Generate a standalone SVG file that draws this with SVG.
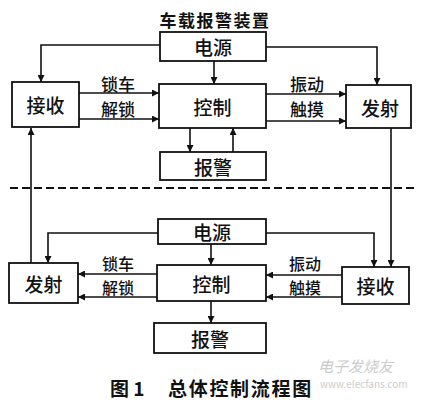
<svg xmlns="http://www.w3.org/2000/svg" width="425" height="400" viewBox="0 0 425 400">
<defs>
<marker id="ah" viewBox="0 0 10 10" refX="10" refY="5" markerWidth="8" markerHeight="7" markerUnits="userSpaceOnUse" orient="auto">
<path d="M0,0 L10,5 L0,10 z" fill="#111"/>
</marker>
<style>
.box{fill:#fff;stroke:#111;stroke-width:1.8}
.t{font-family:"Noto Sans CJK SC","Noto Sans",sans-serif;font-size:19px;font-weight:500;fill:#111;text-anchor:middle;dominant-baseline:central}
.lbl{font-family:"Noto Sans CJK SC","Noto Sans",sans-serif;font-size:17px;font-weight:500;fill:#111;text-anchor:middle;dominant-baseline:central}
.lb2{font-family:"Noto Sans CJK SC","Noto Sans",sans-serif;font-size:16px;font-weight:500;fill:#111;text-anchor:middle;dominant-baseline:central}
.ttl{font-family:"Noto Sans CJK SC","Noto Sans",sans-serif;font-size:17px;font-weight:bold;fill:#111;text-anchor:middle;dominant-baseline:central}
.ln{fill:none;stroke:#111;stroke-width:1.6}
.ar{marker-end:url(#ah)}
.cap{font-family:"Noto Sans CJK SC","Noto Sans",sans-serif;font-size:19px;font-weight:bold;fill:#111;dominant-baseline:central}
.wm{font-family:"Noto Sans CJK SC","Noto Sans",sans-serif;fill:#ccc;dominant-baseline:central}
</style>
</defs>
<rect width="425" height="400" fill="#fff"/>
<text class="ttl" x="215" y="19" letter-spacing="1.5">车载报警装置</text>

<g id="connectors">
<polyline class="ln ar" points="160,45 41,45 41,82"/>
<polyline class="ln ar" points="266,47 377,47 377,85"/>
<line class="ln ar" x1="214" y1="61" x2="214" y2="84"/>
<line class="ln ar" x1="79" y1="93" x2="159" y2="93"/>
<line class="ln ar" x1="79" y1="119" x2="159" y2="119"/>
<line class="ln ar" x1="266" y1="94" x2="346" y2="94"/>
<line class="ln ar" x1="266" y1="121" x2="346" y2="121"/>
<line class="ln ar" x1="190" y1="128" x2="190" y2="152"/>
<line class="ln ar" x1="233" y1="152" x2="233" y2="128"/>
<line class="ln ar" x1="31" y1="263" x2="31" y2="128"/>
<polyline class="ln ar" points="391,128 391,267"/>
<polyline class="ln ar" points="158,233 48,233 48,263"/>
<polyline class="ln ar" points="266,233 374,233 374,267"/>
<line class="ln ar" x1="211" y1="244" x2="211" y2="265"/>
<line class="ln ar" x1="157" y1="274" x2="78" y2="274"/>
<line class="ln ar" x1="157" y1="297" x2="78" y2="297"/>
<line class="ln ar" x1="342" y1="275" x2="266" y2="275"/>
<line class="ln ar" x1="342" y1="297" x2="266" y2="297"/>
<line class="ln ar" x1="211" y1="301" x2="211" y2="323"/>
<line x1="10" y1="188" x2="417" y2="188" stroke="#111" stroke-width="2" stroke-dasharray="8 4"/>
</g>

<g id="labels">
<text class="lbl" x="118" y="83">锁车</text>
<text class="lbl" x="118" y="108">解锁</text>
<text class="lbl" x="307" y="83">振动</text>
<text class="lbl" x="307" y="108">触摸</text>
<text class="lb2" x="118" y="263">锁车</text>
<text class="lb2" x="118" y="287">解锁</text>
<text class="lb2" x="305" y="263">振动</text>
<text class="lb2" x="305" y="287">触摸</text>
</g>

<g id="top-power"><rect class="box" x="160" y="32" width="106" height="29"/><text class="t" x="213" y="46.5">电源</text></g>
<g id="top-receive"><rect class="box" x="12" y="82" width="67" height="45"/><text class="t" x="45.5" y="104.5">接收</text></g>
<g id="top-control"><rect class="box" x="159" y="84" width="107" height="44"/><text class="t" x="212.5" y="106">控制</text></g>
<g id="top-transmit"><rect class="box" x="346" y="85" width="65" height="43"/><text class="t" x="380" y="107">发射</text></g>
<g id="top-alarm"><rect class="box" x="160" y="152" width="106" height="28"/><text class="t" x="213" y="166">报警</text></g>

<g id="bot-power"><rect class="box" x="158" y="219" width="108" height="25"/><text class="t" x="212" y="231.5">电源</text></g>
<g id="bot-transmit"><rect class="box" x="9" y="263" width="69" height="40"/><text class="t" x="43.5" y="283">发射</text></g>
<g id="bot-control"><rect class="box" x="157" y="265" width="109" height="36"/><text class="t" x="211.5" y="283">控制</text></g>
<g id="bot-receive"><rect class="box" x="342" y="267" width="67" height="37"/><text class="t" x="375.5" y="285.5">接收</text></g>
<g id="bot-alarm"><rect class="box" x="154" y="323" width="112" height="30"/><text class="t" x="210" y="338">报警</text></g>

<text class="cap" x="110" y="387">图 1</text>
<text class="cap" x="168" y="387" letter-spacing="1.7">总体控制流程图</text>

<text class="wm" x="318" y="365" font-size="15" font-style="italic">电子发烧友</text>
<text class="wm" x="320" y="383" font-size="10">www.elecfans.com</text>
</svg>
